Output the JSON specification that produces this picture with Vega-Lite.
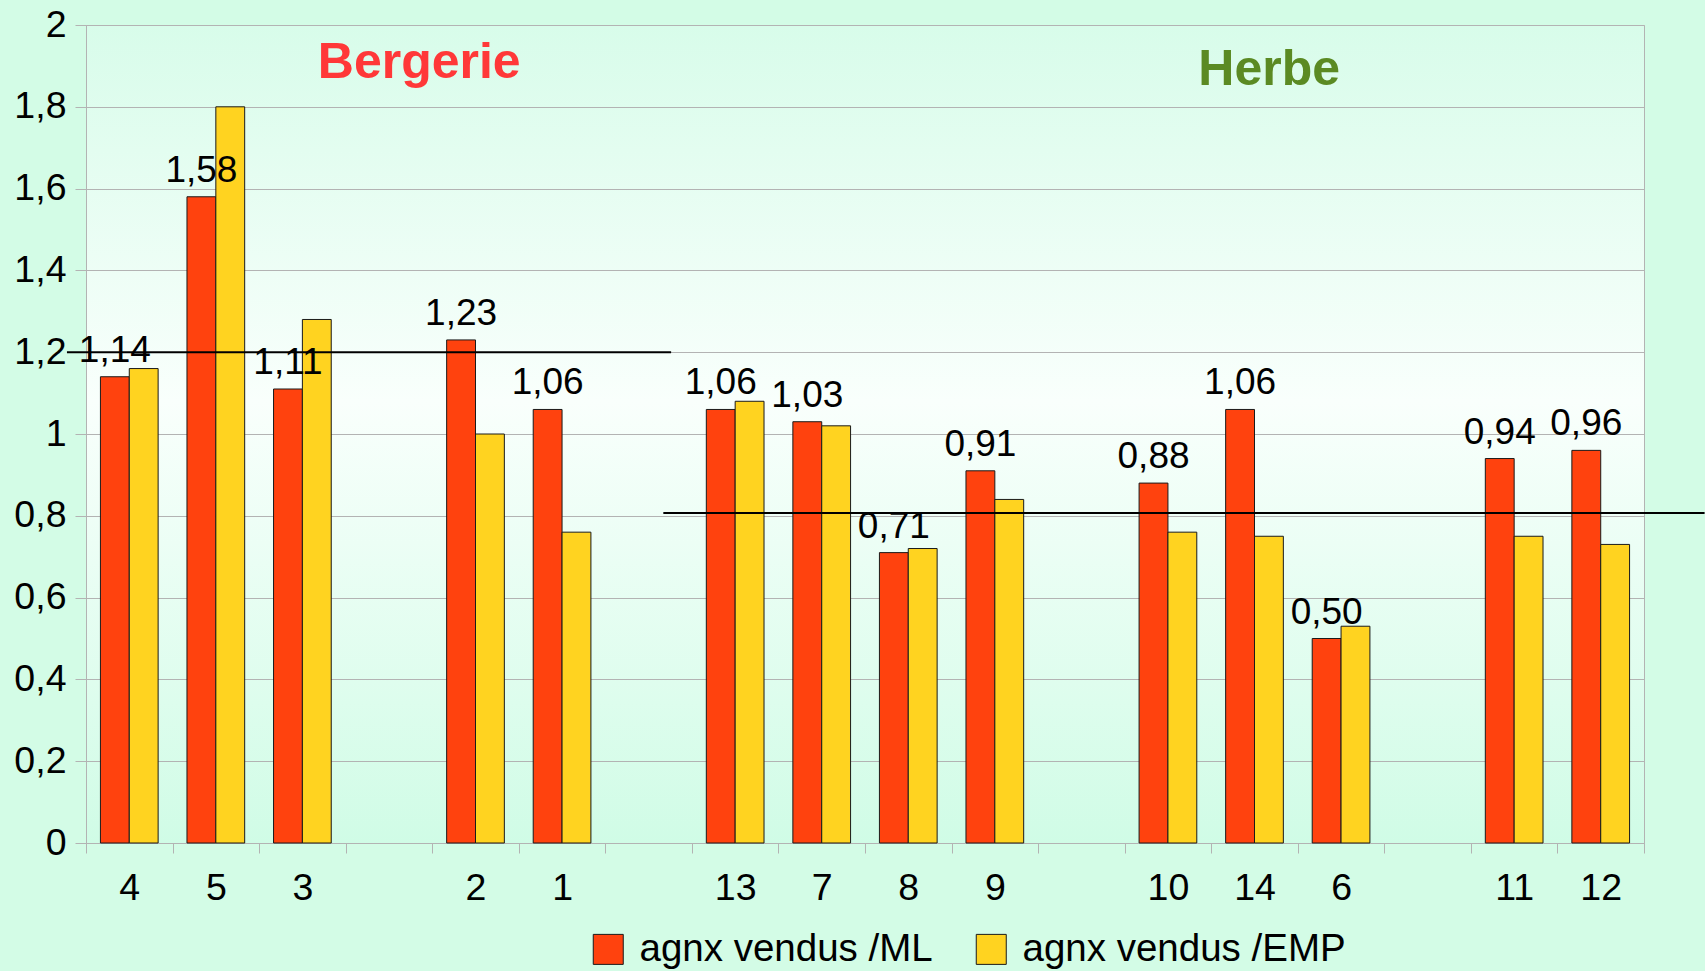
{
  "$schema": "https://vega.github.io/schema/vega-lite/v6.json",
  "width": 1558,
  "height": 818,
  "autosize": {"type": "none"},
  "padding": {"left": 86, "top": 25, "right": 61, "bottom": 128},
  "background": "#d3fce6",
  "config": {
    "font": "Liberation Sans",
    "locale": {"number": {"decimal": ",", "thousands": " ", "grouping": [3], "currency": ["", " €"]}},
    "view": {
      "stroke": "#b3b3b3",
      "strokeWidth": 1,
      "fill": {
        "gradient": "linear", "x1": 0, "y1": 0, "x2": 0, "y2": 1,
        "stops": [
          {"offset": 0, "color": "#d8fcea"},
          {"offset": 0.46, "color": "#f9fffc"},
          {"offset": 1, "color": "#d0fce6"}
        ]
      }
    }
  },
  "datasets": {
    "bars": [
      {"farm": "4", "series": "agnx vendus /ML", "value": 1.14},
      {"farm": "4", "series": "agnx vendus /EMP", "value": 1.16},
      {"farm": "5", "series": "agnx vendus /ML", "value": 1.58},
      {"farm": "5", "series": "agnx vendus /EMP", "value": 1.8},
      {"farm": "3", "series": "agnx vendus /ML", "value": 1.11},
      {"farm": "3", "series": "agnx vendus /EMP", "value": 1.28},
      {"farm": "2", "series": "agnx vendus /ML", "value": 1.23},
      {"farm": "2", "series": "agnx vendus /EMP", "value": 1.0},
      {"farm": "1", "series": "agnx vendus /ML", "value": 1.06},
      {"farm": "1", "series": "agnx vendus /EMP", "value": 0.76},
      {"farm": "13", "series": "agnx vendus /ML", "value": 1.06},
      {"farm": "13", "series": "agnx vendus /EMP", "value": 1.08},
      {"farm": "7", "series": "agnx vendus /ML", "value": 1.03},
      {"farm": "7", "series": "agnx vendus /EMP", "value": 1.02},
      {"farm": "8", "series": "agnx vendus /ML", "value": 0.71},
      {"farm": "8", "series": "agnx vendus /EMP", "value": 0.72},
      {"farm": "9", "series": "agnx vendus /ML", "value": 0.91},
      {"farm": "9", "series": "agnx vendus /EMP", "value": 0.84},
      {"farm": "10", "series": "agnx vendus /ML", "value": 0.88},
      {"farm": "10", "series": "agnx vendus /EMP", "value": 0.76},
      {"farm": "14", "series": "agnx vendus /ML", "value": 1.06},
      {"farm": "14", "series": "agnx vendus /EMP", "value": 0.75},
      {"farm": "6", "series": "agnx vendus /ML", "value": 0.5},
      {"farm": "6", "series": "agnx vendus /EMP", "value": 0.53},
      {"farm": "11", "series": "agnx vendus /ML", "value": 0.94},
      {"farm": "11", "series": "agnx vendus /EMP", "value": 0.75},
      {"farm": "12", "series": "agnx vendus /ML", "value": 0.96},
      {"farm": "12", "series": "agnx vendus /EMP", "value": 0.73}
    ],
    "refs": [
      {"group": "Bergerie", "from": -0.22, "to": 6.76, "value": 1.2},
      {"group": "Herbe", "from": 6.67, "to": 18.7, "value": 0.807}
    ],
    "titles": [
      {"group": "Bergerie", "slot": 3.85, "value": 1.87},
      {"group": "Herbe", "slot": 13.67, "value": 1.853}
    ]
  },
  "layer": [
    {
      "data": {"name": "bars"},
      "encoding": {
        "x": {
          "field": "farm", "type": "nominal",
          "scale": {
            "domain": ["4", "5", "3", " ", "2", "1", "  ", "13", "7", "8", "9", "   ", "10", "14", "6", "    ", "11", "12"],
            "paddingInner": 0, "paddingOuter": 0
          },
          "axis": {
            "title": null,
            "labelAngle": 0,
            "labelFontSize": 37.5,
            "labelColor": "#000000",
            "labelPadding": 16,
            "tickBand": "extent",
            "tickSize": 10,
            "tickColor": "#b3b3b3",
            "domainColor": "#b3b3b3",
            "grid": false
          }
        },
        "xOffset": {
          "field": "series", "type": "nominal",
          "scale": {"domain": ["agnx vendus /ML", "agnx vendus /EMP"], "paddingInner": 0, "paddingOuter": 0.5}
        },
        "y": {
          "field": "value", "type": "quantitative",
          "scale": {"domain": [0, 2], "nice": false},
          "axis": {
            "title": null,
            "values": [0, 0.2, 0.4, 0.6, 0.8, 1, 1.2, 1.4, 1.6, 1.8, 2],
            "format": ".1~f",
            "labelFontSize": 37.5,
            "labelColor": "#000000",
            "labelPadding": 9,
            "tickSize": 11,
            "tickColor": "#b3b3b3",
            "domainColor": "#b3b3b3",
            "gridColor": "#b3b3b3",
            "grid": true
          }
        }
      },
      "layer": [
        {
          "mark": {"type": "bar", "stroke": "#1a1a1a", "strokeWidth": 1},
          "encoding": {
            "color": {
              "field": "series", "type": "nominal",
              "scale": {"domain": ["agnx vendus /ML", "agnx vendus /EMP"], "range": ["#ff420e", "#ffd320"]},
              "legend": {
                "title": null,
                "orient": "none",
                "direction": "horizontal",
                "legendX": 503,
                "legendY": 905,
                "padding": 0,
                "symbolType": "square",
                "symbolSize": 900,
                "symbolStrokeColor": "#1a1a1a",
                "symbolStrokeWidth": 1,
                "labelFontSize": 38.5,
                "labelColor": "#000000",
                "labelLimit": 0,
                "labelOffset": 12,
                "columnPadding": 39
              }
            }
          }
        },
        {
          "transform": [{"filter": "datum.series === 'agnx vendus /ML'"}],
          "mark": {"type": "text", "fontSize": 37, "baseline": "alphabetic", "dy": -15, "color": "#000000"},
          "encoding": {"text": {"field": "value", "type": "quantitative", "format": ".2f"}}
        }
      ]
    },
    {
      "layer": [
        {
          "data": {"name": "refs"},
          "mark": {"type": "rule", "color": "#000000", "strokeWidth": 2},
          "encoding": {
            "x": {"field": "from", "type": "quantitative", "scale": {"domain": [0, 18], "nice": false, "zero": false}, "axis": null},
            "x2": {"field": "to"},
            "y": {"field": "value", "type": "quantitative", "scale": {"domain": [0, 2], "nice": false}}
          }
        },
        {
          "data": {"name": "titles"},
          "mark": {"type": "text", "fontSize": 50, "fontWeight": "bold", "baseline": "alphabetic", "align": "center"},
          "encoding": {
            "x": {"field": "slot", "type": "quantitative", "scale": {"domain": [0, 18], "nice": false, "zero": false}, "axis": null},
            "y": {"field": "value", "type": "quantitative", "scale": {"domain": [0, 2], "nice": false}},
            "text": {"field": "group"},
            "color": {"field": "group", "type": "nominal", "scale": {"domain": ["Bergerie", "Herbe"], "range": ["#ff3838", "#5b8a23"]}, "legend": null}
          }
        }
      ]
    }
  ],
  "resolve": {"scale": {"x": "independent", "color": "independent"}}
}
